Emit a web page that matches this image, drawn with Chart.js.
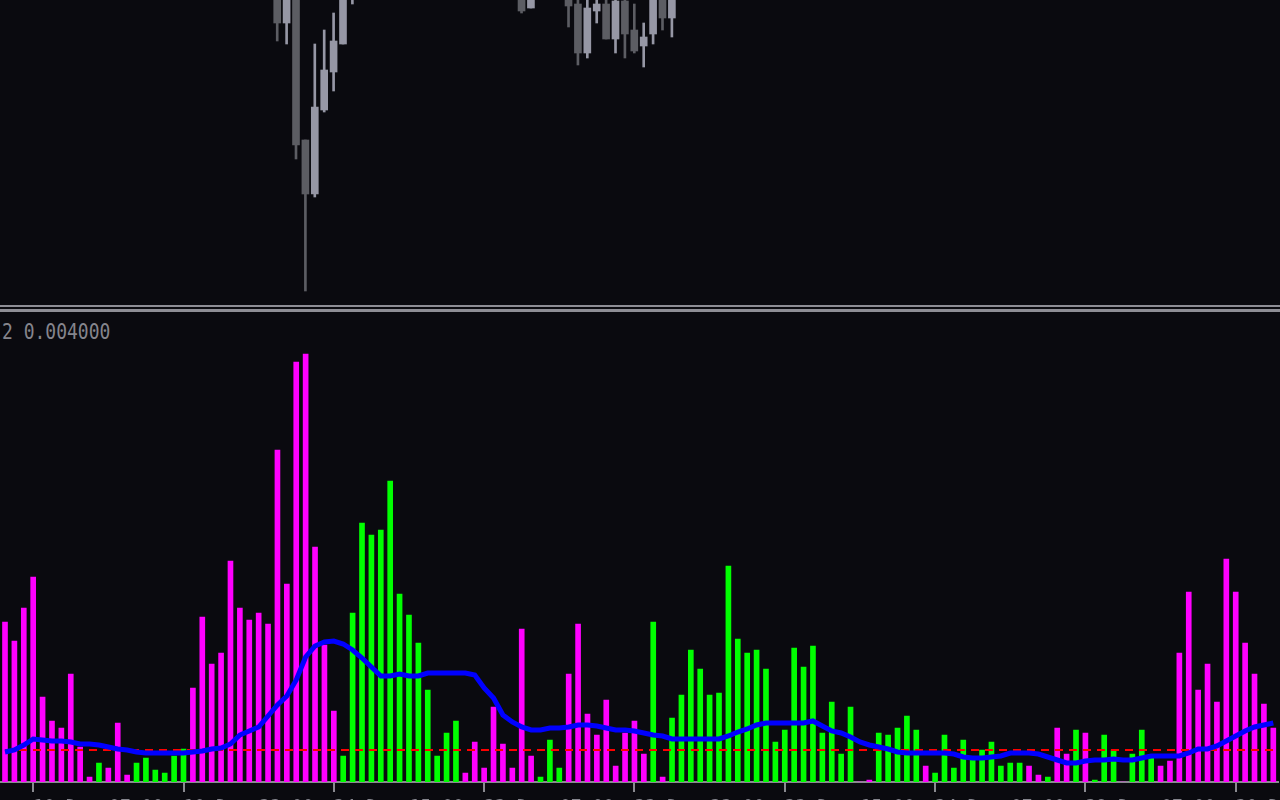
<!DOCTYPE html>
<html>
<head>
<meta charset="utf-8">
<script src="https://cdn.jsdelivr.net/npm/chart.js@4.4.0/dist/chart.umd.min.js"></script>
<style>
    html, body { margin: 0; padding: 0; width: 1280px; height: 800px; overflow: hidden; background: #0a0a0f; }
    #priceBox { position: absolute; left: 0; top: 0; }
    #histBox { position: absolute; left: 0; top: 312px; }
    .sep { position: absolute; left: 0; width: 1280px; background: #8e8e95; }
    #indLabel {
        position: absolute; left: 2px; top: 318px; line-height: 21px;
        font-family: 'DejaVu Sans Mono', monospace; font-size: 18px; color: #85858d;
        transform-origin: left top; transform: scaleY(1.22); white-space: pre;
    }
</style>
</head>
<body>
<div id="priceBox"><canvas id="priceChart" width="1280" height="304"></canvas></div>
<div class="sep" style="top:305px;height:2px"></div>
<div class="sep" style="top:309px;height:3px"></div>
<div id="indLabel">2 0.004000</div>
<div id="histBox"><canvas id="histChart" width="1280" height="500"></canvas></div>

<script>
// 136 bars, une étiquette de date toutes les 16 barres (à partir de la barre 3)
const barCount = 136;
const barIndex = Array.from({ length: barCount }, (_, i) => i);
const tickFirst = 3;
const tickStep = 16;
const tickLabels = ['10 Dec 07:00', '10 Dec 23:00', '24 Dec 15:00', '23 Dec 07:00', '23 Dec 23:00',
                    '23 Dec 15:00', '24 Dec 07:00', '29 Dec 07:00', '30 Dec 23:00'];

// bougies visibles dans le panneau du haut (les autres sont hors de l'écran)
const candleBars  = [29, 30, 31, 32, 33, 34, 35, 36, 37, 55, 56, 60, 61, 62, 63, 64, 65, 66, 67, 68, 69, 70, 71];
const candleOpen  = [1.21515, 1.21477, 1.21505, 1.21360, 1.21306, 1.21390, 1.21428, 1.21456, 1.21505, 1.21520, 1.21492, 1.21520,
                     1.21496, 1.21447, 1.21489, 1.21496, 1.21461, 1.21499, 1.21470, 1.21454, 1.21466, 1.21510, 1.21482];
const candleHigh  = [1.21530, 1.21520, 1.21510, 1.21360, 1.21456, 1.21470, 1.21487, 1.21530, 1.21540, 1.21530, 1.21530, 1.21530,
                     1.21510, 1.21505, 1.21505, 1.21505, 1.21505, 1.21505, 1.21496, 1.21477, 1.21520, 1.21520, 1.21520];
const candleLow   = [1.21459, 1.21456, 1.21341, 1.21209, 1.21303, 1.21388, 1.21409, 1.21456, 1.21496, 1.21487, 1.21492, 1.21473,
                     1.21435, 1.21442, 1.21477, 1.21461, 1.21447, 1.21442, 1.21447, 1.21433, 1.21456, 1.21470, 1.21463];
const candleClose = [1.21477, 1.21510, 1.21355, 1.21306, 1.21393, 1.21430, 1.21459, 1.21520, 1.21530, 1.21489, 1.21520, 1.21494,
                     1.21447, 1.21492, 1.21496, 1.21461, 1.21499, 1.21466, 1.21449, 1.21463, 1.21510, 1.21482, 1.21510];
const priceMin = 1.21196;
const priceMax = 1.21500;

// histogramme (en points, 1 point = 0.00001)
const histPts = [160, 141, 174, 205, 85, 61, 54, 108, 35, 5,
                 19, 14, 59, 7, 19, 24, 12, 9, 26, 33,
                 94, 165, 118, 129, 221, 174, 162, 169, 158, 332,
                 198, 420, 428, 235, 137, 71, 26, 169, 259, 247,
                 252, 301, 188, 167, 139, 92, 26, 49, 61, 9,
                 40, 14, 75, 38, 14, 153, 26, 5, 42, 14,
                 108, 158, 68, 47, 82, 16, 49, 61, 28, 160,
                 5, 64, 87, 132, 113, 87, 89, 216, 143, 129,
                 132, 113, 40, 52, 134, 115, 136, 49, 80, 28,
                 75, 0, 2, 49, 47, 54, 66, 52, 16, 9,
                 47, 14, 42, 22, 32, 40, 16, 19, 19, 16,
                 7, 5, 54, 28, 52, 49, 2, 47, 32, 0,
                 28, 52, 26, 16, 21, 129, 190, 92, 118, 80,
                 223, 190, 139, 108, 78, 54];
// 1 = barre verte, 0 = barre magenta
const histUp = [0, 0, 0, 0, 0, 0, 0, 0, 0, 0,
                1, 0, 0, 0, 1, 1, 1, 1, 1, 1,
                0, 0, 0, 0, 0, 0, 0, 0, 0, 0,
                0, 0, 0, 0, 0, 0, 1, 1, 1, 1,
                1, 1, 1, 1, 1, 1, 1, 1, 1, 0,
                0, 0, 0, 0, 0, 0, 0, 1, 1, 1,
                0, 0, 0, 0, 0, 0, 0, 0, 0, 1,
                0, 1, 1, 1, 1, 1, 1, 1, 1, 1,
                1, 1, 1, 1, 1, 1, 1, 1, 1, 1,
                1, 0, 0, 1, 1, 1, 1, 1, 0, 1,
                1, 1, 1, 1, 1, 1, 1, 1, 1, 0,
                0, 1, 0, 0, 1, 0, 1, 1, 1, 0,
                1, 1, 1, 0, 0, 0, 0, 0, 0, 0,
                0, 0, 0, 0, 0, 0];
// moyenne (ligne bleue)
const maPts = [30, 32, 37, 43, 42, 41, 41, 40, 38, 38,
               37, 35, 33, 32, 30, 29, 29, 29, 29, 29,
               30, 31, 33, 34, 38, 47, 51, 55, 66, 77,
               86, 102, 125, 136, 140, 141, 138, 132, 124, 115,
               106, 106, 108, 106, 106, 109, 109, 109, 109, 109,
               107, 94, 84, 67, 60, 55, 52, 52, 54, 54,
               55, 57, 57, 56, 54, 52, 52, 51, 49, 47,
               46, 43, 43, 43, 43, 43, 43, 46, 50, 53,
               57, 59, 59, 59, 59, 59, 61, 56, 51, 49,
               45, 40, 37, 35, 33, 30, 29, 29, 29, 29,
               29, 28, 25, 24, 24, 25, 26, 29, 29, 29,
               28, 25, 22, 19, 19, 21, 22, 22, 23, 22,
               22, 24, 26, 26, 26, 26, 29, 33, 33, 36,
               41, 46, 51, 55, 57, 59];
// niveau (ligne rouge pointillée)
const levelPts = 32;
const histMax = 470;

const colBull = '#9697a5';
const colBear = '#5c5d63';
const colUp = '#00ff00';
const colDown = '#ff00ff';

// --- panneau du haut : bougies ---
const wickData = barIndex.map(() => null);
const bodyData = barIndex.map(() => null);
const candleColors = barIndex.map(() => colBull);
candleBars.forEach((b, k) => {
    const o = candleOpen[k], c = candleClose[k];
    wickData[b] = [candleLow[k], candleHigh[k]];
    bodyData[b] = [Math.min(o, c), Math.max(o, c)];
    candleColors[b] = c >= o ? colBull : colBear;
});

new Chart(document.getElementById('priceChart'), {
    type: 'bar',
    data: {
        labels: barIndex,
        datasets: [
            { data: wickData, backgroundColor: candleColors, barThickness: 2, grouped: false, order: 1 },
            { data: bodyData, backgroundColor: candleColors, barThickness: 7, grouped: false, order: 0 }
        ]
    },
    options: {
        responsive: false,
        animation: false,
        layout: { padding: { left: 0, right: 2, top: 0, bottom: 0 } },
        plugins: { legend: { display: false }, tooltip: { enabled: false } },
        scales: {
            x: { display: false },
            y: { display: false, min: priceMin, max: priceMax }
        }
    }
});

// --- panneau du bas : histogramme + lignes ---
const isTick = i => i >= tickFirst && (i - tickFirst) % tickStep === 0;

new Chart(document.getElementById('histChart'), {
    type: 'bar',
    data: {
        labels: barIndex,
        datasets: [
            {
                type: 'line',
                data: maPts,
                borderColor: '#0000ff',
                borderWidth: 5,
                pointRadius: 0,
                tension: 0,
                order: 0
            },
            {
                type: 'line',
                data: barIndex.map(() => levelPts),
                borderColor: '#ff0000',
                borderWidth: 2,
                borderDash: [8, 6],
                pointRadius: 0,
                order: 1
            },
            {
                data: histPts,
                backgroundColor: histUp.map(u => u ? colUp : colDown),
                barThickness: 5,
                order: 2
            }
        ]
    },
    options: {
        responsive: false,
        animation: false,
        layout: { padding: { left: 0, right: 2, top: 0, bottom: 0 } },
        plugins: { legend: { display: false }, tooltip: { enabled: false } },
        scales: {
            x: {
                afterFit: scale => { scale.height = 30; },
                border: { display: true, color: '#8a8a90', width: 2 },
                grid: {
                    offset: false,
                    drawOnChartArea: false,
                    drawTicks: true,
                    tickLength: 10,
                    lineWidth: 2,
                    color: ctx => isTick(ctx.index) ? '#8a8a90' : 'transparent'
                },
                ticks: {
                    autoSkip: false,
                    maxRotation: 0,
                    minRotation: 0,
                    align: 'start',
                    padding: 5,
                    color: '#85858d',
                    font: { family: 'DejaVu Sans Mono', size: 18 },
                    callback: (v, i) => isTick(i) ? tickLabels[(i - tickFirst) / tickStep] : ''
                }
            },
            y: { display: false, min: 0, max: histMax }
        }
    }
});
</script>
</body>
</html>
